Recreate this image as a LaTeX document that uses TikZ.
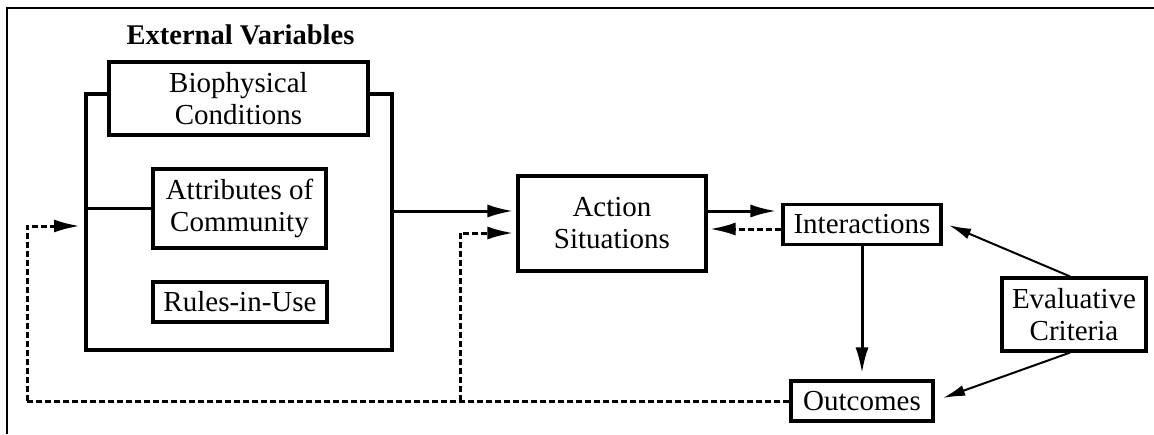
\documentclass[tikz,border=0pt]{standalone}
\usepackage{fontspec}
\setmainfont{Liberation Serif}
\usetikzlibrary{arrows.meta}
\begin{document}
\begin{tikzpicture}[x=1pt,y=-1pt,
 box/.style={draw, line width=3.2pt, fill=white, inner sep=0pt, align=center, font=\fontsize{29}{32}\selectfont},
 big/.style={-{Latex[length=26pt,width=13pt]}, line width=3pt},
 dsh/.style={line width=3pt, dash pattern=on 6pt off 3pt},
 thinarr/.style={-{Latex[length=22pt,width=11pt]}, line width=2pt}]
\useasboundingbox (0,0) rectangle (1154,434);
\draw[line width=2pt] (7,434) -- (7,8) -- (1154,8);
\node[font=\bfseries\fontsize{28.5}{32}\selectfont] (title) at (240.5,35) {External Variables};
\node[draw, line width=3.2pt, minimum width=306pt, minimum height=256pt, inner sep=0pt] (ext) at (239,222) {};
\node[box, minimum width=259pt, minimum height=73pt] (bio) at (238.5,98.5) {Biophysical\\Conditions};
\node[box, minimum width=173pt, minimum height=79pt] (attr) at (239.5,208.5) {Attributes of\\Community};
\node[box, minimum width=174pt, minimum height=40pt] (rules) at (240,302) {Rules-in-Use};
\node[box, minimum width=188pt, minimum height=95pt] (act) at (612,223.5) {Action\\Situations};
\node[box, minimum width=158pt, minimum height=40pt] (int) at (862,224.5) {Interactions};
\node[box, minimum width=142pt, minimum height=40pt] (out) at (862,401) {Outcomes};
\node[box, minimum width=144pt, minimum height=73pt] (eval) at (1074,314.5) {Evaluative\\Criteria};
\coordinate (row) at (0,211);
\coordinate (fbc) at (27,401);
\coordinate (fbtip) at (80,226);
\coordinate (br) at (460,401);
\coordinate (d1) at ([yshift=-4.5pt]int.west);
\coordinate (d2) at ([yshift=-9.5pt]act.west);
% connectors
\draw[line width=2.2pt] (ext.west |- attr.west) -- (attr.west);
\draw[big, shorten >=3pt] (ext.east |- row) -- (act.west |- row);
\draw[big, shorten >=5pt] (act.east |- row) -- (int.west |- row);
\draw[dsh, -{Latex[length=26pt,width=13pt]}, shorten >=2pt] (d1) -- (act.east |- d1);
\draw[big, shorten >=6pt] (int.south) -- (out.north);
\draw[dsh] (out.west) -- (fbc);
\draw[dsh, -{Latex[length=26pt,width=13pt]}] (fbc) |- (fbtip);
\draw[dsh, -{Latex[length=26pt,width=13pt]}, shorten >=3pt] (br) |- (d2);
\draw[thinarr, shorten >=7pt] ([xshift=-4pt]eval.north) -- ([yshift=2pt]int.east);
\draw[thinarr, shorten >=9pt] ([xshift=-4pt]eval.south) -- (out.east);
\end{tikzpicture}
\end{document}
